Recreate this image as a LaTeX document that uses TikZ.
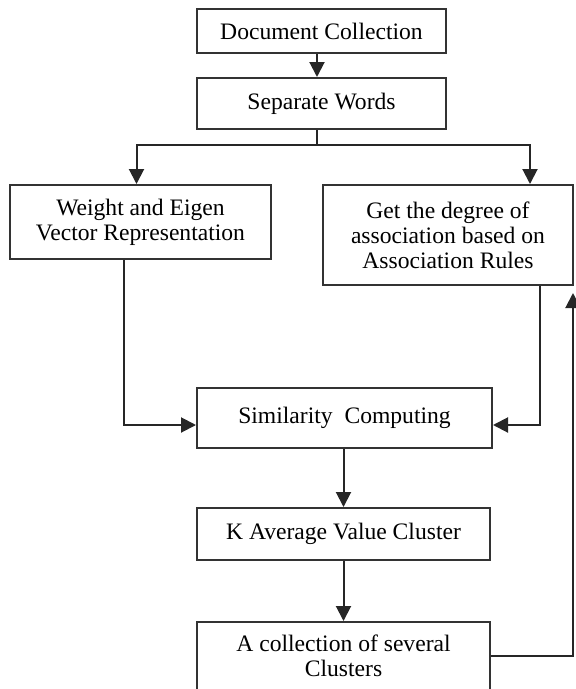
\documentclass[tikz,border=0pt]{standalone}
\usepackage{fontspec}
\setmainfont{Liberation Serif}
\usetikzlibrary{arrows.meta,calc}
\tikzset{
  box/.style={draw=black!80,line width=2pt,inner sep=0pt,align=center,
    font=\fontsize{23.6}{25}\selectfont},
  arr/.style={draw=black!85,line width=2pt,-{Triangle[length=15pt,width=15pt]}},
  ln/.style={draw=black!85,line width=2pt}
}
\begin{document}
\begin{tikzpicture}[x=1pt,y=-1pt]
\useasboundingbox (0,0) rectangle (576,689);

\node[box,minimum width=249pt,minimum height=44pt] (doc) at (321.5,31) {Document Collection};
\node[box,minimum width=249pt,minimum height=51pt] (sep) at (321.5,103.5) {Separate Words};
\node[box,minimum width=261pt,minimum height=74pt] (weight) at (140.5,222) {Weight and Eigen\\Vector Representation};
\node[box,minimum width=250pt,minimum height=100pt] (assoc) at (448,235) {Get the degree of\\association based on\\Association Rules};
\node[box,minimum width=295pt,minimum height=60pt] (sim) at (344.5,418) {Similarity\ \ Computing};
\node[box,minimum width=293pt,minimum height=52pt] (kavg) at (343.5,534) {K Average Value Cluster};
\node[box,minimum width=293pt,minimum height=68pt] (clus) at (343.5,656) {A collection of several\\Clusters};

\coordinate (stem) at ($(sep.south)+(-4.5,0)$);
\coordinate (split) at ($(stem)+(0,15)$);
\coordinate (rdrop) at ($(assoc.north east)+(-44,0)$);

\draw[arr] ($(doc.south)+(-4.5,0)$) -- ($(sep.north)+(-4.5,0)$);
\draw[ln] (stem) -- (split);
\draw[arr] (split) -| ($(weight.north)+(-4,0)$);
\draw[arr] (split) -| (rdrop);
\draw[arr] ($(weight.south)+(-17,0)$) |- ($(sim.west)+(0,7)$);
\draw[arr] ($(assoc.south east)+(-34,0)$) |- ($(sim.east)+(0,7)$);
\draw[arr] (sim.south -| kavg.north) -- (kavg.north);
\draw[arr] (kavg.south) -- (clus.north);
\draw[arr] (clus.east) -| ($(assoc.south east)+(-1,7)$);
\end{tikzpicture}
\end{document}
